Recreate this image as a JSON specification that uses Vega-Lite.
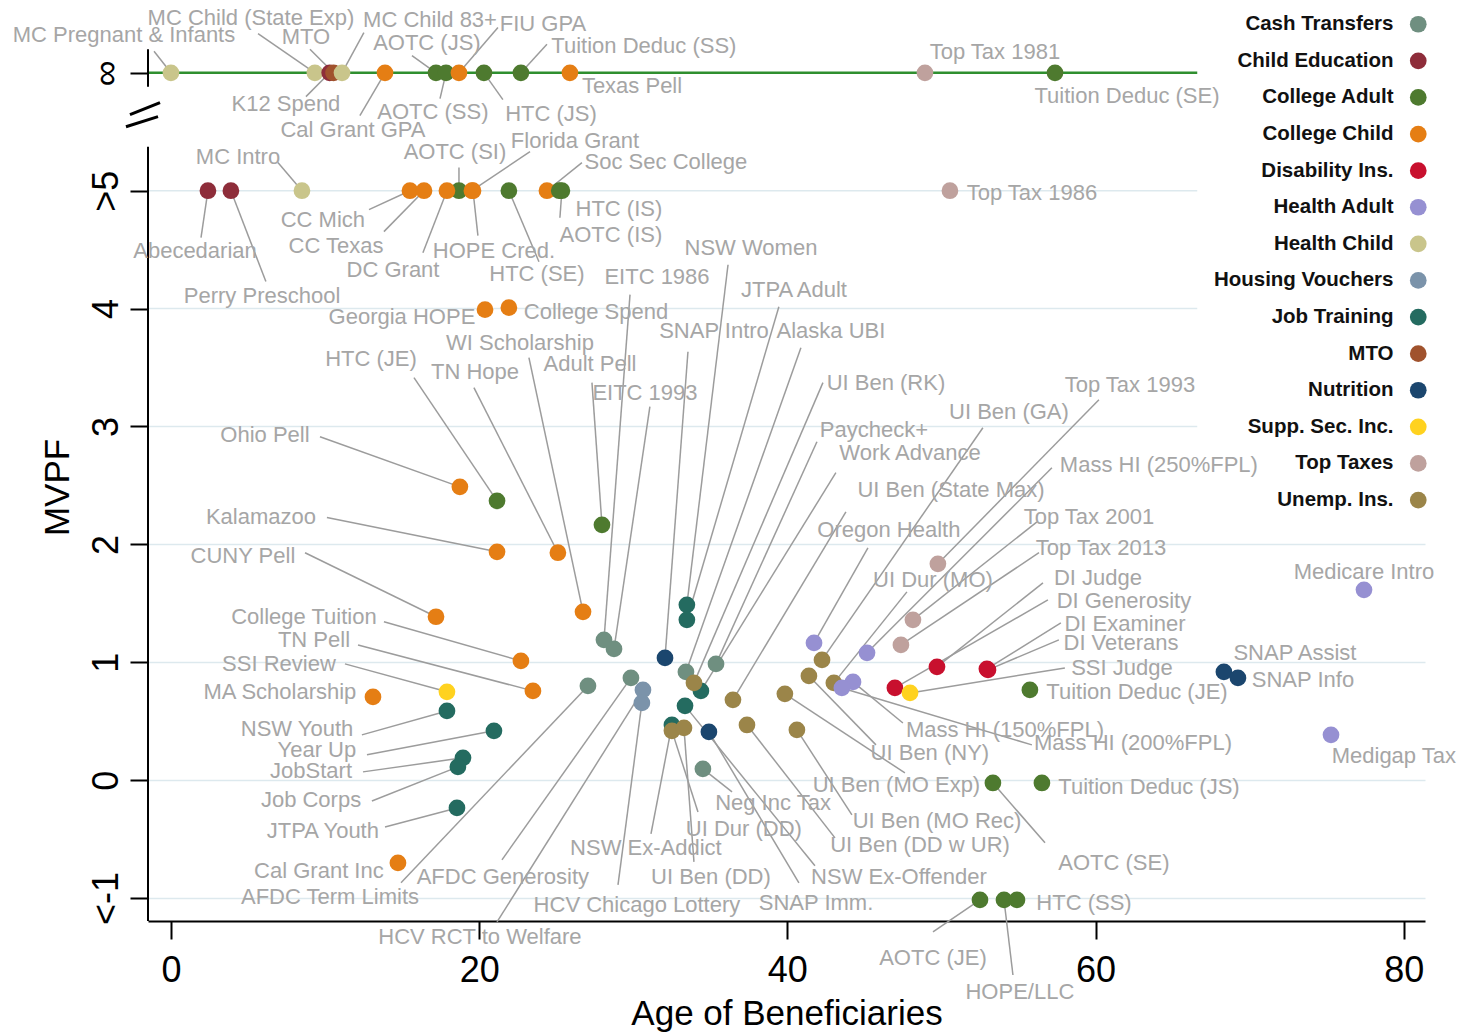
{
  "$schema": "https://vega.github.io/schema/vega-lite/v6.json",
  "width": 1277,
  "height": 913,
  "autosize": {"type": "none"},
  "padding": {"left": 148, "top": 8, "right": 43, "bottom": 112},
  "background": "white",
  "config": {
    "view": {"stroke": null},
    "font": "Liberation Sans",
    "axis": {"labelFont": "Liberation Sans", "titleFont": "Liberation Sans"},
    "legend": {"labelFont": "Liberation Sans"}
  },
  "datasets": {
    "pts": [
      {"n":"MC Pregnant & Infants","c":"Health Child","x":0,"y":6,"tx":-3.05,"ty":6.317,"lx":-1.1,"ly":6.183},
      {"n":"MC Child (State Exp)","c":"Health Child","x":9.34,"y":6,"tx":5.19,"ty":6.469,"lx":5.65,"ly":6.333},
      {"n":"K12 Spend","c":"Child Education","x":10.3,"y":6,"tx":7.46,"ty":5.739,"lx":8.76,"ly":5.798},
      {"n":"MTO","c":"MTO","x":10.55,"y":6,"tx":8.76,"ty":6.3,"lx":9.02,"ly":6.2},
      {"n":"MC Child 83+","c":"Health Child","x":11.1,"y":6,"tx":16.81,"ty":6.452,"lx":12.52,"ly":6.341},
      {"n":"Cal Grant GPA","c":"College Child","x":13.89,"y":6,"tx":11.81,"ty":5.518,"lx":12.26,"ly":5.637},
      {"n":"AOTC (JS)","c":"College Adult","x":17.2,"y":6,"tx":16.61,"ty":6.251,"lx":15.64,"ly":6.146},
      {"n":"AOTC (SS)","c":"College Adult","x":17.85,"y":6,"tx":17.0,"ty":5.671,"lx":17.46,"ly":5.781},
      {"n":"FIU GPA","c":"College Child","x":18.69,"y":6,"tx":24.14,"ty":6.418,"lx":21.22,"ly":6.384},
      {"n":"HTC (JS)","c":"College Adult","x":20.31,"y":6,"tx":24.66,"ty":5.654,"lx":21.54,"ly":5.773},
      {"n":"Tuition Deduc (SS)","c":"College Adult","x":22.71,"y":6,"tx":30.69,"ty":6.225,"lx":24.4,"ly":6.242},
      {"n":"Texas Pell","c":"College Child","x":25.89,"y":6,"tx":29.92,"ty":5.892},
      {"n":"Top Tax 1981","c":"Top Taxes","x":48.93,"y":6,"tx":53.47,"ty":6.175},
      {"n":"Tuition Deduc (SE)","c":"College Adult","x":57.37,"y":6,"tx":62.04,"ty":5.807},
      {"n":"Abecedarian","c":"Child Education","x":2.4,"y":5,"tx":1.56,"ty":4.491,"lx":1.95,"ly":4.602},
      {"n":"Perry Preschool","c":"Child Education","x":3.89,"y":5,"tx":5.91,"ty":4.11,"lx":6.16,"ly":4.229},
      {"n":"MC Intro","c":"Health Child","x":8.5,"y":5,"tx":4.35,"ty":5.29,"lx":6.94,"ly":5.239},
      {"n":"CC Mich","c":"College Child","x":15.51,"y":5,"tx":9.86,"ty":4.755,"lx":12.85,"ly":4.84},
      {"n":"CC Texas","c":"College Child","x":16.42,"y":5,"tx":10.71,"ty":4.534,"lx":13.82,"ly":4.653},
      {"n":"AOTC (SI)","c":"College Adult","x":18.69,"y":5,"tx":18.43,"ty":5.332,"lx":18.69,"ly":5.196},
      {"n":"DC Grant","c":"College Child","x":17.91,"y":5,"tx":14.41,"ty":4.33,"lx":16.35,"ly":4.474},
      {"n":"Florida Grant","c":"College Child","x":19.53,"y":5,"tx":26.22,"ty":5.425,"lx":23.3,"ly":5.332},
      {"n":"HOPE Cred.","c":"College Child","x":19.6,"y":5,"tx":20.96,"ty":4.491,"lx":19.92,"ly":4.619},
      {"n":"HTC (SE)","c":"College Adult","x":21.93,"y":5,"tx":23.75,"ty":4.296,"lx":23.88,"ly":4.398},
      {"n":"Soc Sec College","c":"College Child","x":24.4,"y":5,"tx":32.12,"ty":5.247,"lx":26.67,"ly":5.239},
      {"n":"AOTC (IS)","c":"College Adult","x":25.2,"y":5,"tx":28.55,"ty":4.627},
      {"n":"HTC (IS)","c":"College Adult","x":25.37,"y":5,"tx":29.07,"ty":4.847,"lx":25.24,"ly":4.771},
      {"n":"Top Tax 1986","c":"Top Taxes","x":50.55,"y":5,"tx":55.87,"ty":4.983},
      {"n":"Georgia HOPE","c":"College Child","x":20.38,"y":3.991,"tx":14.99,"ty":3.932},
      {"n":"College Spend","c":"College Child","x":21.93,"y":4.008,"tx":27.58,"ty":3.974},
      {"n":"Ohio Pell","c":"College Child","x":18.75,"y":2.488,"tx":6.1,"ty":2.93,"lx":9.67,"ly":2.913},
      {"n":"HTC (JE)","c":"College Adult","x":21.16,"y":2.369,"tx":12.98,"ty":3.575,"lx":15.77,"ly":3.415},
      {"n":"Kalamazoo","c":"College Child","x":21.16,"y":1.937,"tx":5.84,"ty":2.236,"lx":10.12,"ly":2.227},
      {"n":"TN Hope","c":"College Child","x":25.11,"y":1.929,"tx":19.73,"ty":3.464,"lx":19.66,"ly":3.33},
      {"n":"WI Scholarship","c":"College Child","x":26.74,"y":1.428,"tx":22.65,"ty":3.711,"lx":23.23,"ly":3.584},
      {"n":"Adult Pell","c":"College Adult","x":27.97,"y":2.166,"tx":27.19,"ty":3.533,"lx":27.32,"ly":3.372},
      {"n":"EITC 1986","c":"Cash Transfers","x":28.1,"y":1.19,"tx":31.54,"ty":4.271,"lx":29.79,"ly":4.119},
      {"n":"EITC 1993","c":"Cash Transfers","x":28.75,"y":1.113,"tx":30.76,"ty":3.286,"lx":31.08,"ly":3.168},
      {"n":"CUNY Pell","c":"College Child","x":17.2,"y":1.386,"tx":4.67,"ty":1.903,"lx":8.7,"ly":1.929},
      {"n":"College Tuition","c":"College Child","x":22.71,"y":1.011,"tx":8.63,"ty":1.386,"lx":13.82,"ly":1.343},
      {"n":"TN Pell","c":"College Child","x":23.49,"y":0.757,"tx":9.28,"ty":1.19,"lx":12.14,"ly":1.147},
      {"n":"SSI Review","c":"Supp. Sec. Inc.","x":17.91,"y":0.749,"tx":7.01,"ty":0.986,"lx":11.29,"ly":0.986},
      {"n":"MA Scholarship","c":"College Child","x":13.11,"y":0.706,"tx":7.07,"ty":0.749},
      {"n":"NSW Youth","c":"Job Training","x":17.91,"y":0.587,"tx":8.18,"ty":0.435,"lx":12.39,"ly":0.384},
      {"n":"Year Up","c":"Job Training","x":20.96,"y":0.418,"tx":9.47,"ty":0.256,"lx":12.72,"ly":0.216},
      {"n":"JobStart","c":"Job Training","x":18.95,"y":0.189,"tx":9.09,"ty":0.078,"lx":12.46,"ly":0.07},
      {"n":"Job Corps","c":"Job Training","x":18.62,"y":0.112,"tx":9.09,"ty":-0.168,"lx":13.04,"ly":-0.177},
      {"n":"JTPA Youth","c":"Job Training","x":18.56,"y":-0.236,"tx":9.86,"ty":-0.431,"lx":13.89,"ly":-0.397},
      {"n":"Cal Grant Inc","c":"College Child","x":14.73,"y":-0.702,"tx":9.6,"ty":-0.77},
      {"n":"AFDC Term Limits","c":"Cash Transfers","x":27.06,"y":0.799,"tx":10.32,"ty":-0.99,"lx":14.93,"ly":-0.871},
      {"n":"AFDC Generosity","c":"Cash Transfers","x":29.85,"y":0.867,"tx":21.54,"ty":-0.82,"lx":21.48,"ly":-0.676},
      {"n":"HCV RCT to Welfare","c":"Housing Vouchers","x":30.63,"y":0.765,"tx":20.05,"ty":-1.33,"lx":21.16,"ly":-1.203},
      {"n":"HCV Chicago Lottery","c":"Housing Vouchers","x":30.56,"y":0.655,"tx":30.24,"ty":-1.058,"lx":29.01,"ly":-0.888},
      {"n":"NSW Women","c":"Job Training","x":33.48,"y":1.487,"tx":37.64,"ty":4.517,"lx":36.15,"ly":4.372},
      {"n":"JTPA Adult","c":"Job Training","x":33.48,"y":1.36,"tx":40.43,"ty":4.161,"lx":39.45,"ly":4.016},
      {"n":"SNAP Intro","c":"Nutrition","x":32.06,"y":1.037,"tx":35.24,"ty":3.812,"lx":33.55,"ly":3.634},
      {"n":"Alaska UBI","c":"Cash Transfers","x":33.42,"y":0.918,"tx":42.83,"ty":3.812,"lx":40.88,"ly":3.668},
      {"n":"Work Advance","c":"Job Training","x":34.39,"y":0.757,"tx":47.96,"ty":2.777,"lx":43.15,"ly":2.608},
      {"n":"UI Ben (RK)","c":"Unemp. Ins.","x":33.94,"y":0.825,"tx":46.4,"ty":3.372,"lx":42.31,"ly":3.372},
      {"n":"NSW Ex-Offender","c":"Job Training","x":33.36,"y":0.63,"tx":47.24,"ty":-0.82,"lx":41.79,"ly":-0.727},
      {"n":"NSW Ex-Addict","c":"Job Training","x":32.51,"y":0.468,"tx":30.82,"ty":-0.574,"lx":31.15,"ly":-0.456},
      {"n":"Paycheck+","c":"Cash Transfers","x":35.37,"y":0.986,"tx":45.62,"ty":2.973,"lx":41.92,"ly":2.87},
      {"n":"UI Ben (State Max)","c":"Unemp. Ins.","x":36.47,"y":0.681,"tx":50.62,"ty":2.462,"lx":43.8,"ly":2.276},
      {"n":"UI Dur (DD)","c":"Unemp. Ins.","x":32.51,"y":0.418,"tx":37.18,"ty":-0.414,"lx":34.2,"ly":-0.27},
      {"n":"UI Ben (DD)","c":"Unemp. Ins.","x":33.29,"y":0.443,"tx":35.04,"ty":-0.82,"lx":33.94,"ly":-0.693},
      {"n":"SNAP Imm.","c":"Nutrition","x":34.91,"y":0.409,"tx":41.86,"ty":-1.041,"lx":40.75,"ly":-0.871},
      {"n":"Neg Inc Tax","c":"Cash Transfers","x":34.52,"y":0.095,"tx":39.07,"ty":-0.194,"lx":36.41,"ly":-0.1},
      {"n":"UI Ben (DD w UR)","c":"Unemp. Ins.","x":37.38,"y":0.468,"tx":48.61,"ty":-0.549,"lx":43.09,"ly":-0.49},
      {"n":"UI Ben (MO Rec)","c":"Unemp. Ins.","x":40.62,"y":0.426,"tx":49.71,"ty":-0.346,"lx":44.19,"ly":-0.295},
      {"n":"UI Ben (MO Exp)","c":"Unemp. Ins.","x":39.84,"y":0.732,"tx":47.08,"ty":-0.041,"lx":47.63,"ly":0.061},
      {"n":"UI Ben (NY)","c":"Unemp. Ins.","x":41.4,"y":0.884,"tx":49.25,"ty":0.233,"lx":45.75,"ly":0.299},
      {"n":"UI Ben (GA)","c":"Unemp. Ins.","x":42.25,"y":1.02,"tx":54.38,"ty":3.125,"lx":52.69,"ly":2.989},
      {"n":"UI Dur (MO)","c":"Unemp. Ins.","x":43.02,"y":0.825,"tx":49.45,"ty":1.699,"lx":47.76,"ly":1.597},
      {"n":"Oregon Health","c":"Health Adult","x":41.73,"y":1.164,"tx":46.59,"ty":2.123,"lx":45.23,"ly":1.971},
      {"n":"Mass HI (250%FPL)","c":"Health Adult","x":45.17,"y":1.08,"tx":64.11,"ty":2.675,"lx":57.17,"ly":2.65},
      {"n":"Mass HI (150%FPL)","c":"Health Adult","x":44.26,"y":0.833,"tx":54.12,"ty":0.426,"lx":47.5,"ly":0.485},
      {"n":"Mass HI (200%FPL)","c":"Health Adult","x":43.54,"y":0.782,"tx":62.43,"ty":0.316,"lx":55.87,"ly":0.299},
      {"n":"Top Tax 1993","c":"Top Taxes","x":49.77,"y":1.835,"tx":62.23,"ty":3.354,"lx":60.22,"ly":3.227},
      {"n":"Top Tax 2001","c":"Top Taxes","x":48.15,"y":1.36,"tx":59.57,"ty":2.236,"lx":56.2,"ly":2.191},
      {"n":"Top Tax 2013","c":"Top Taxes","x":47.37,"y":1.147,"tx":60.35,"ty":1.971,"lx":56.33,"ly":1.929},
      {"n":"DI Generosity","c":"Disability Ins.","x":46.98,"y":0.782,"tx":61.84,"ty":1.521,"lx":56.91,"ly":1.529},
      {"n":"DI Judge","c":"Disability Ins.","x":49.71,"y":0.961,"tx":60.16,"ty":1.716,"lx":56.59,"ly":1.674},
      {"n":"DI Examiner","c":"Disability Ins.","x":52.95,"y":0.944,"tx":61.91,"ty":1.326,"lx":57.75,"ly":1.334},
      {"n":"DI Veterans","c":"Disability Ins.","x":53.02,"y":0.935,"tx":61.65,"ty":1.164,"lx":57.62,"ly":1.19},
      {"n":"SSI Judge","c":"Supp. Sec. Inc.","x":47.96,"y":0.74,"tx":61.71,"ty":0.952,"lx":58.01,"ly":0.952},
      {"n":"Tuition Deduc (JE)","c":"College Adult","x":55.74,"y":0.765,"tx":62.69,"ty":0.749},
      {"n":"AOTC (SE)","c":"College Adult","x":53.34,"y":-0.024,"tx":61.19,"ty":-0.702,"lx":56.72,"ly":-0.532},
      {"n":"Tuition Deduc (JS)","c":"College Adult","x":56.52,"y":-0.024,"tx":63.47,"ty":-0.058},
      {"n":"AOTC (JE)","c":"College Adult","x":52.5,"y":-1.016,"tx":49.45,"ty":-1.509,"lx":49.45,"ly":-1.288},
      {"n":"HOPE/LLC","c":"College Adult","x":54.06,"y":-1.016,"tx":55.09,"ty":-1.797,"lx":54.64,"ly":-1.653},
      {"n":"HTC (SS)","c":"College Adult","x":54.9,"y":-1.016,"tx":59.25,"ty":-1.041},
      {"n":"SNAP Assist","c":"Nutrition","x":68.33,"y":0.918,"tx":72.94,"ty":1.08},
      {"n":"SNAP Info","c":"Nutrition","x":69.24,"y":0.867,"tx":73.46,"ty":0.85},
      {"n":"Medicare Intro","c":"Health Adult","x":77.42,"y":1.614,"tx":77.42,"ty":1.767},
      {"n":"Medigap Tax","c":"Health Adult","x":75.28,"y":0.384,"tx":79.36,"ty":0.207}
    ]
  },
  "layer": [
    {
      "data": {"values": [{"g": 3}, {"g": 4}, {"g": 5}]},
      "mark": {"type": "rule", "color": "#dde9ee", "strokeWidth": 1.5},
      "encoding": {
        "y": {"field": "g", "type": "quantitative"},
        "x": {"datum": -1.49},
        "x2": {"datum": 66.6}
      }
    },
    {
      "data": {"values": [{"g": 6}]},
      "mark": {"type": "rule", "color": "#2f8f2f", "strokeWidth": 2.5},
      "encoding": {
        "y": {"field": "g", "type": "quantitative"},
        "x": {"datum": -1.49},
        "x2": {"datum": 66.6}
      }
    },
    {
      "data": {"values": [{"a": -1.195, "b": 5.374}, {"a": 5.883, "b": 6.2}]},
      "mark": {"type": "rule", "color": "black", "strokeWidth": 2},
      "encoding": {
        "x": {"datum": -1.49},
        "y": {"field": "a", "type": "quantitative"},
        "y2": {"field": "b"}
      }
    },
    {
      "data": {"values": [{"x1": -2.66, "y1": 5.645, "x2": -0.71, "y2": 5.747}, {"x1": -2.92, "y1": 5.543, "x2": -0.84, "y2": 5.628}]},
      "mark": {"type": "rule", "color": "black", "strokeWidth": 3},
      "encoding": {
        "x": {"field": "x1", "type": "quantitative"},
        "y": {"field": "y1", "type": "quantitative"},
        "x2": {"field": "x2"},
        "y2": {"field": "y2"}
      }
    },
    {
      "data": {"name": "pts"},
      "transform": [{"filter": "isValid(datum.lx)"}],
      "mark": {"type": "rule", "color": "#9c9c9c", "strokeWidth": 1.5},
      "encoding": {
        "x": {"field": "lx", "type": "quantitative"},
        "y": {"field": "ly", "type": "quantitative"},
        "x2": {"field": "x"},
        "y2": {"field": "y"}
      }
    },
    {
      "data": {"name": "pts"},
      "mark": {"type": "circle", "size": 280, "opacity": 1},
      "encoding": {
        "x": {
          "field": "x", "type": "quantitative",
          "scale": {"domain": [-1.49, 81.38], "nice": false, "zero": false},
          "axis": {
            "values": [0, 20, 40, 60, 80],
            "format": "d",
            "title": "Age of Beneficiaries",
            "titleFontSize": 35, "titleFontWeight": "normal", "titleColor": "black",
            "titleY": 92, "titleBaseline": "middle",
            "labelFontSize": 36, "labelColor": "black", "labelPadding": 14, "labelFlush": false,
            "domainColor": "black", "domainWidth": 2,
            "tickColor": "black", "tickWidth": 2, "tickSize": 18,
            "grid": false
          }
        },
        "y": {
          "field": "y", "type": "quantitative",
          "scale": {"domain": [-1.195, 6.55], "nice": false, "zero": false},
          "axis": {
            "values": [-1, 0, 1, 2, 3, 4, 5, 6],
            "format": "d",
            "labelExpr": "datum.value == 6 ? '∞' : datum.value == 5 ? '>5' : datum.value == -1 ? '<-1' : format(datum.value, 'd')",
            "title": "MVPF",
            "titleFontSize": 35, "titleFontWeight": "normal", "titleColor": "black",
            "titleX": -91, "titleY": 479, "titleAlign": "center", "titleBaseline": "middle",
            "labelFontSize": 36, "labelColor": "black", "labelAngle": -90,
            "labelAlign": "center", "labelBaseline": "bottom", "labelPadding": 5,
            "domain": false,
            "tickColor": "black", "tickWidth": 2, "tickSize": 18,
            "grid": true, "gridWidth": 1.5,
            "gridColor": {"condition": {"test": "datum.value <= 2", "value": "#dde9ee"}, "value": "transparent"}
          }
        },
        "color": {
          "field": "c", "type": "nominal",
          "scale": {
            "domain": ["Cash Transfers","Child Education","College Adult","College Child","Disability Ins.","Health Adult","Health Child","Housing Vouchers","Job Training","MTO","Nutrition","Supp. Sec. Inc.","Top Taxes","Unemp. Ins."],
            "range": ["#6f8f80","#8e2d3a","#4e7a2f","#e57e14","#c8102e","#9690d2","#c9c58b","#7b93aa","#246b60","#a0522d","#1b466e","#ffd21f","#bfa19d","#9b8549"]
          },
          "legend": {
            "title": null, "orient": "none", "legendX": 1260, "legendY": 6,
            "labelFontSize": 20.5, "labelFontWeight": "bold", "labelColor": "#111111",
            "labelAlign": "right", "labelOffset": -35, "labelLimit": 400,
            "symbolType": "circle", "symbolSize": 280, "symbolStrokeWidth": 0, "symbolOpacity": 1,
            "rowPadding": 15.6, "padding": 0
          }
        }
      }
    },
    {
      "data": {"name": "pts"},
      "mark": {"type": "text", "font": "Liberation Sans", "fontSize": 22, "color": "#a6a6a6", "align": "center", "baseline": "middle"},
      "encoding": {
        "x": {"field": "tx", "type": "quantitative"},
        "y": {"field": "ty", "type": "quantitative"},
        "text": {"field": "n"}
      }
    }
  ]
}
